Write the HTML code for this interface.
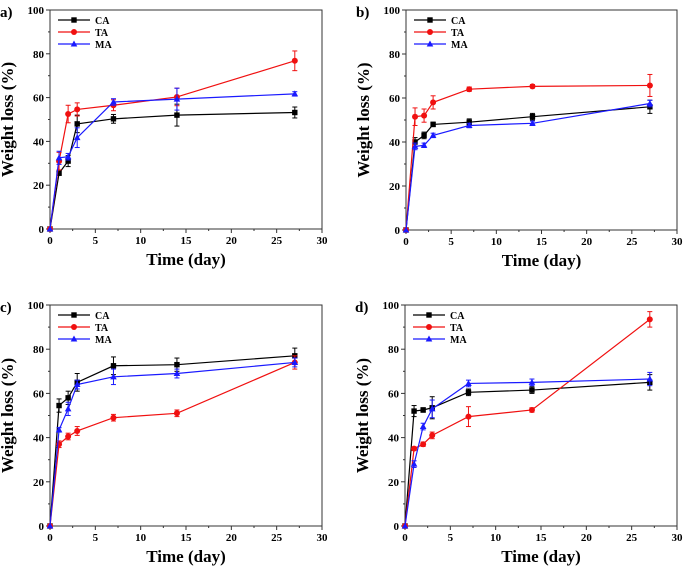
<!DOCTYPE html>
<html><head><meta charset="utf-8"><style>
body{margin:0;background:#fff;}
svg text{font-family:"Liberation Serif",serif;font-weight:bold;fill:#000;}
</style></head><body>
<svg id="c" width="685" height="572" viewBox="0 0 685 572" xmlns="http://www.w3.org/2000/svg"></svg>
<script>
const days = [0,1,2,3,7,14,27];
const seriesNames = ["CA","TA","MA"];
const panelLabels = ["a)","b)","c)","d)"];
const xTicks = [0,5,10,15,20,25,30];
const yTicks = [0,20,40,60,80,100];
const aCA=[0,25.5,31,48,50.3,52,53.2], aTA=[0,31,52.5,54.6,56.5,60.3,76.8], aMA=[0,32.5,33,41.7,58,59.3,61.7];
const aCAe=[0,1,2.5,4,2,5,2.5], aTAe=[0,4,4,3,2.5,4,4.5], aMAe=[0,3,1.5,4.5,1.5,5,1];
const bCA=[0,40,43,48,49,51.5,56], bTA=[0,51.5,52,58,64,65.3,65.7], bMA=[0,38,38.5,43,47.5,48.5,57.5];
const bCAe=[0,2,1.5,1,1.5,1.5,3], bTAe=[0,4,3,3,1,0.8,5], bMAe=[0,1.5,1,1,1,1,1.5];
const cCA=[0,54.5,58,65,72.5,73,77], cTA=[0,37,40.5,43,49,51,74], cMA=[0,43.5,53,64,67.5,69,74];
const cCAe=[0,3,3,4,4,3,3.5], cTAe=[0,1.5,1.5,2,1.5,1.5,3], cMAe=[0,1,3,2,3.5,2,2];
const dCA=[0,52,52.5,53.5,60.5,61.5,65], dTA=[0,35,37,41,49.5,52.5,93.5], dMA=[0,28,45,53,64.5,65,66.5];
const dCAe=[0,2.5,1,5,1.5,1.5,3.5], dTAe=[0,0.8,1,1.5,4.5,1,3.5], dMAe=[0,1.5,1.5,4,1.5,1.5,3];
const panels=[
 {x0:50,x1:322,y0:10,y1:229,s:[aCA,aTA,aMA],e:[aCAe,aTAe,aMAe]},
 {x0:406,x1:677,y0:10,y1:230,s:[bCA,bTA,bMA],e:[bCAe,bTAe,bMAe]},
 {x0:50,x1:322,y0:305,y1:526,s:[cCA,cTA,cMA],e:[cCAe,cTAe,cMAe]},
 {x0:405,x1:677,y0:305,y1:526,s:[dCA,dTA,dMA],e:[dCAe,dTAe,dMAe]}];
const colors=["#000","#f01010","#1a1aff"];
const svg=document.getElementById('c');
const NS="http://www.w3.org/2000/svg";
function mk(tag,attrs,parent,txt){const el=document.createElementNS(NS,tag);for(const k in attrs)el.setAttribute(k,attrs[k]);if(txt!==undefined)el.textContent=txt;(parent||svg).appendChild(el);return el;}
function marker(g,t,x,y,c){
 if(t===0)return mk('rect',{x:x-2.7,y:y-2.7,width:5.4,height:5.4,fill:c},g);
 if(t===1)return mk('circle',{cx:x,cy:y,r:3,fill:c},g);
 return mk('polygon',{points:`${x},${y-3.5} ${x+3.3},${y+2.5} ${x-3.3},${y+2.5}`,fill:c},g);
}
panels.forEach((p,pi)=>{
 const g=mk('g',{});
 
 
 const X=v=>p.x0+(v/30)*(p.x1-p.x0);
 const Y=v=>p.y1-(v/100)*(p.y1-p.y0);
 const t=mk('text',{x:p.x0-50,y:p.y0+7,'font-size':15},g,panelLabels[pi]);
 
 
 const f=mk('rect',{x:p.x0,y:p.y0,width:p.x1-p.x0,height:p.y1-p.y0,fill:'none',stroke:'#333','stroke-width':1},g);
 
 
 xTicks.forEach(v=>{
  mk('line',{x1:X(v),x2:X(v),y1:p.y1,y2:p.y1+4,stroke:'#333'},g);
  if(v<30)mk('line',{x1:X(v+2.5),x2:X(v+2.5),y1:p.y1,y2:p.y1+2,stroke:'#333'},g);
  const l=mk('text',{x:X(v),y:p.y1+15,'font-size':11,'text-anchor':'middle'},g,v);
  
  
 });
 yTicks.forEach(v=>{
  mk('line',{x1:p.x0-4,x2:p.x0,y1:Y(v),y2:Y(v),stroke:'#333'},g);
  if(v<100)mk('line',{x1:p.x0-2,x2:p.x0,y1:Y(v+10),y2:Y(v+10),stroke:'#333'},g);
  const l=mk('text',{x:p.x0-6,y:Y(v)+4,'font-size':11,'text-anchor':'end'},g,v);
  
  
 });
 const xl=mk('text',{x:(p.x0+p.x1)/2,y:p.y1+36,'font-size':17,'text-anchor':'middle'},g,'Time (day)');
 
 
 const cy=(p.y0+p.y1)/2;
 const yl=mk('text',{x:p.x0-37,y:cy,'font-size':17,'text-anchor':'middle',transform:`rotate(-90 ${p.x0-37} ${cy})`},g,'Weight loss (%)');
 
 
 p.s.forEach((vals,si)=>{
  const c=colors[si];
  const sg=mk('g',{},g);
  
  
  mk('polyline',{points:vals.map((v,i)=>X(days[i])+','+Y(v)).join(' '),fill:'none',stroke:c,'stroke-width':1.2},sg);
  vals.forEach((v,i)=>{
   const e=p.e[si][i];
   if(e>0){
    mk('line',{x1:X(days[i]),x2:X(days[i]),y1:Y(v-e),y2:Y(v+e),stroke:c,'stroke-width':1},sg);
    mk('line',{x1:X(days[i])-2.5,x2:X(days[i])+2.5,y1:Y(v-e),y2:Y(v-e),stroke:c},sg);
    mk('line',{x1:X(days[i])-2.5,x2:X(days[i])+2.5,y1:Y(v+e),y2:Y(v+e),stroke:c},sg);
   }
   const m=marker(sg,si,X(days[i]),Y(v),c);
   
   
  });
  const ly=p.y0+14+si*12;
  const lg=mk('g',{},g);
  
  
  mk('line',{x1:p.x0+8,x2:p.x0+40,y1:ly-4,y2:ly-4,stroke:c,'stroke-width':1.2},lg);
  marker(lg,si,p.x0+24,ly-4,c);
  mk('text',{x:p.x0+45,y:ly,'font-size':10},lg,seriesNames[si]);
 });
});
</script>
</body></html>
